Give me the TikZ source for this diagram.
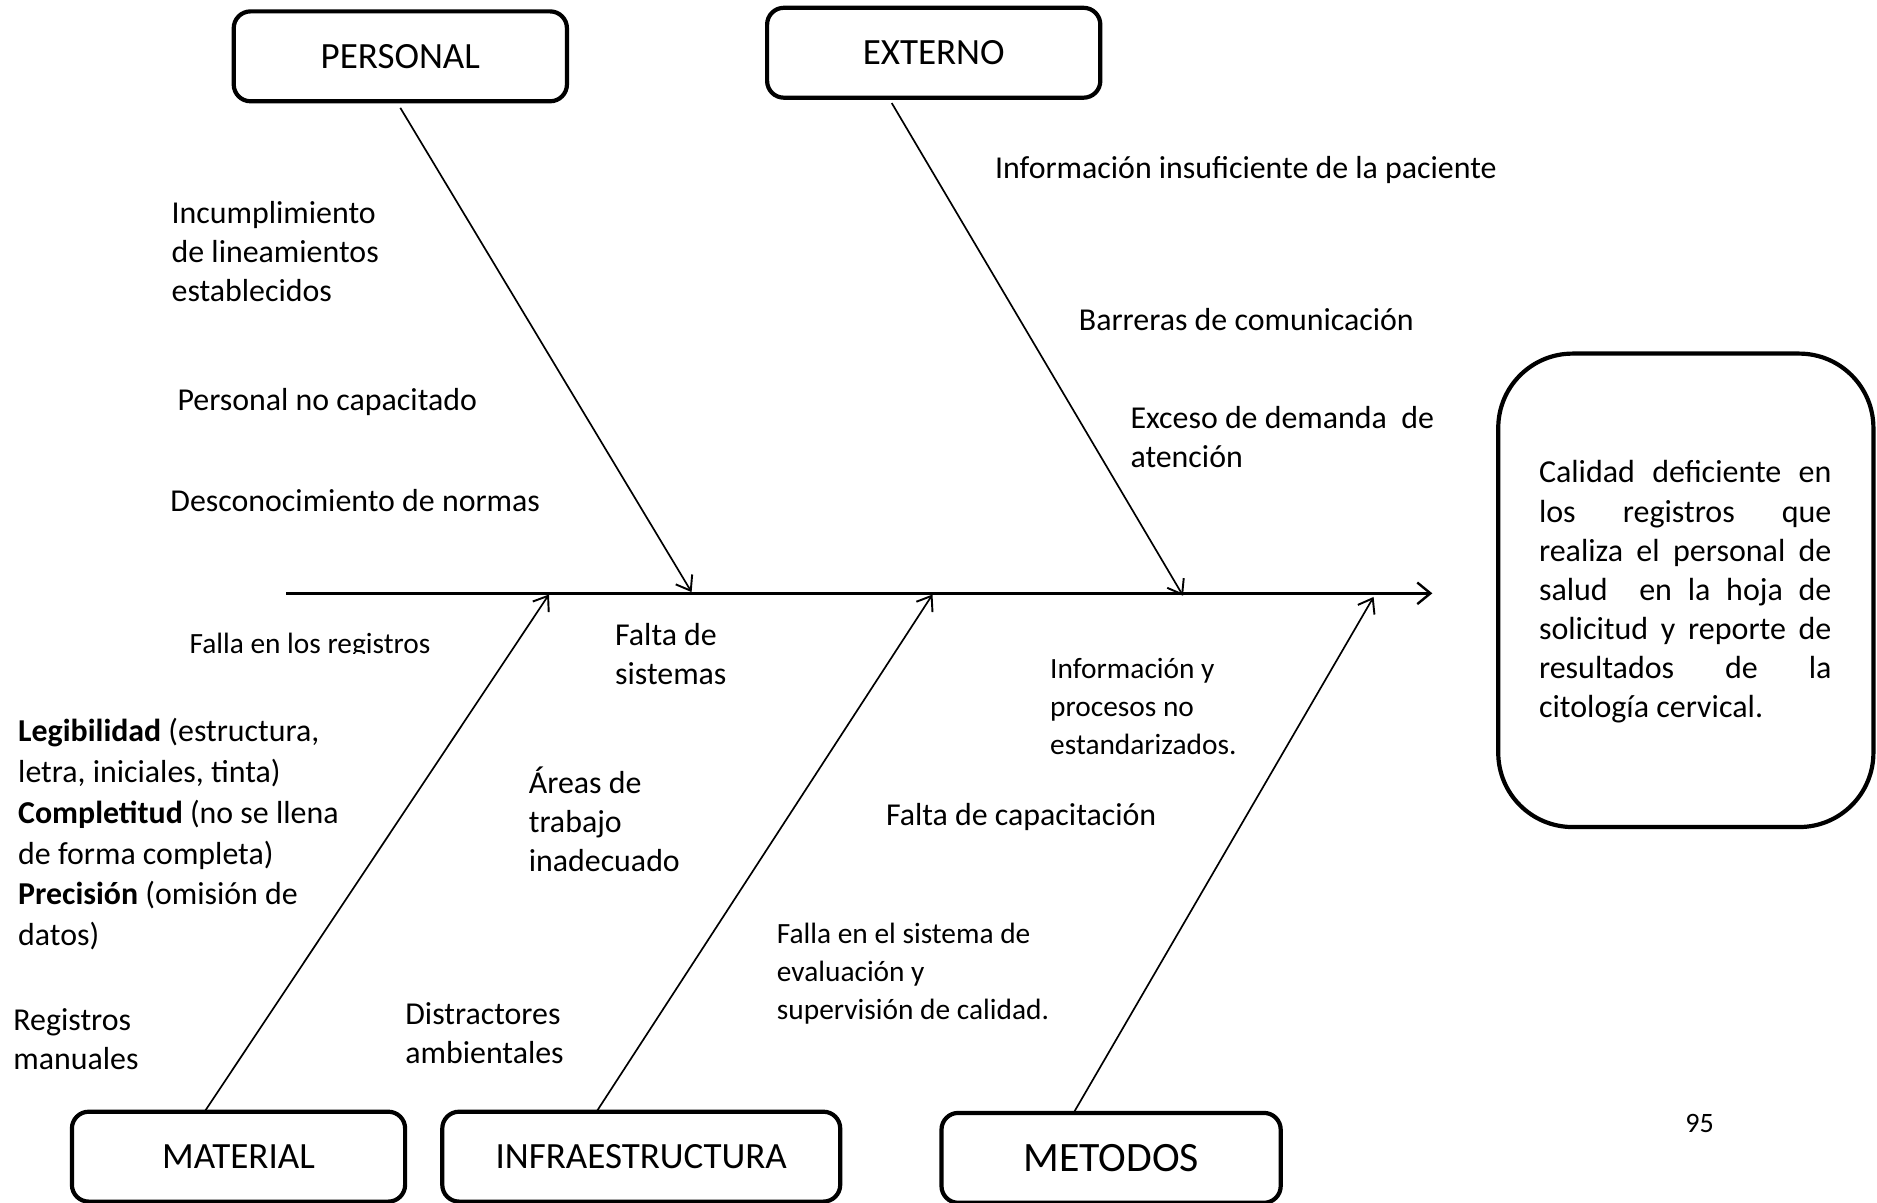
\documentclass[tikz,border=0pt]{standalone}
\usepackage{fontspec}
\setmainfont{Carlito}
\usetikzlibrary{arrows.meta}
\tikzset{
  catbox/.style={draw, line width=3.5bp, rounded corners=14bp, minimum width=278bp, minimum height=75bp, font=\fontsize{31}{36}\selectfont},
  bone/.style={line width=1.4bp, -{Straight Barb[length=11bp,width=16bp,line width=1.6bp]}},
  lbl/.style={anchor=north west, inner sep=0pt, align=left, font=\fontsize{26.7}{32.5}\selectfont},
  slbl/.style={anchor=north west, inner sep=0pt, align=left, font=\fontsize{24.6}{31.7}\selectfont},
}
\begin{document}
\begin{tikzpicture}[x=1bp,y=-1bp]
\useasboundingbox (0,0) rectangle (1566,1003);
% category boxes
\node[catbox] (personal) at (334,47) {PERSONAL};
\node[catbox] (externo) at (779,44) {EXTERNO};
\node[catbox] (material) at (199,965) {MATERIAL};
\node[catbox, minimum width=332bp] (infra) at (535,965) {INFRAESTRUCTURA};
\node[catbox, minimum width=283bp, font=\fontsize{35}{40}\selectfont] (metodos) at (927,966) {METODOS};
% effect box
\node[draw, line width=3.5bp, rounded corners=62bp, minimum width=313bp, minimum height=395bp] (effect) at (1406.5,492.5) {};
\node[text width=244bp, align=justify, inner sep=0pt, font=\fontsize{26.8}{32.8}\selectfont] (efftext) at (1406,494)
{Calidad deficiente en\linebreak los registros que\linebreak realiza el personal de\linebreak salud\ \ en la hoja de\linebreak solicitud y reporte de\linebreak resultados de la\linebreak citología cervical.\par};
% spine
\coordinate (spineL) at (239,495);
\coordinate (spineR) at (1195,495);
\draw[line width=2.3bp, -{Straight Barb[length=11bp,width=18bp,line width=2bp]}] (spineL) -- (spineR);
% bone end points
\coordinate (pS) at (334,90);
\coordinate (pE) at (577,494);
\coordinate (eS) at (744,86);
\coordinate (eE) at (987,497);
\coordinate (mS) at (171,927);
\coordinate (mE) at (458,496);
\coordinate (iS) at (498,927);
\coordinate (iE) at (778,496);
\coordinate (tS) at (896,928);
\coordinate (tE) at (1146,498);
\draw[bone] (pS) -- (pE);
\draw[bone] (eS) -- (eE);
\draw[bone] (mS) -- (mE);
\draw[bone] (iS) -- (iE);
\draw[bone] (tS) -- (tE);
% labels - personal
\node[lbl] (l1) at (143,168) {Incumplimiento\\de lineamientos\\establecidos};
\node[lbl] (l2) at (148,324) {Personal no capacitado};
\node[lbl] (l3) at (142,408) {Desconocimiento de normas};
% externo
\node[lbl] (l4) at (830,130) {Información insuficiente de la paciente};
\node[lbl] (l5) at (900,257) {Barreras de comunicación};
\node[lbl] (l6) at (943,339) {Exceso de demanda\ \ de\\atención};
% material
\begin{scope}
\clip (140,515) rectangle (400,545.5);
\node[slbl] (l7) at (158,528) {Falla en los registros};
\end{scope}
\node[lbl, font=\fontsize{26.7}{34.2}\selectfont] (l8) at (15,599) {\textbf{Legibilidad} (estructura,\\letra, iniciales, tinta)\\\textbf{Completitud} (no se llena\\de forma completa)\\\textbf{Precisión} (omisión de\\datos)};
\node[lbl] (l9) at (11,841) {Registros\\manuales};
% infraestructura
\node[lbl] (l10) at (513,520) {Falta de\\sistemas};
\node[lbl] (l11) at (441,640) {Áreas de\\trabajo\\inadecuado};
\node[lbl] (l12) at (338,836) {Distractores\\ambientales};
% metodos
\node[slbl] (l13) at (876,549) {Información y\\procesos no\\estandarizados.};
\node[lbl] (l14) at (739,670) {Falta de capacitación};
\node[slbl] (l15) at (648,770) {Falla en el sistema de\\evaluación y\\supervisión de calidad.};
% page number
\node[font=\fontsize{23.5}{28}\selectfont, inner sep=0pt] (pg) at (1418,937) {95};
\end{tikzpicture}
\end{document}
